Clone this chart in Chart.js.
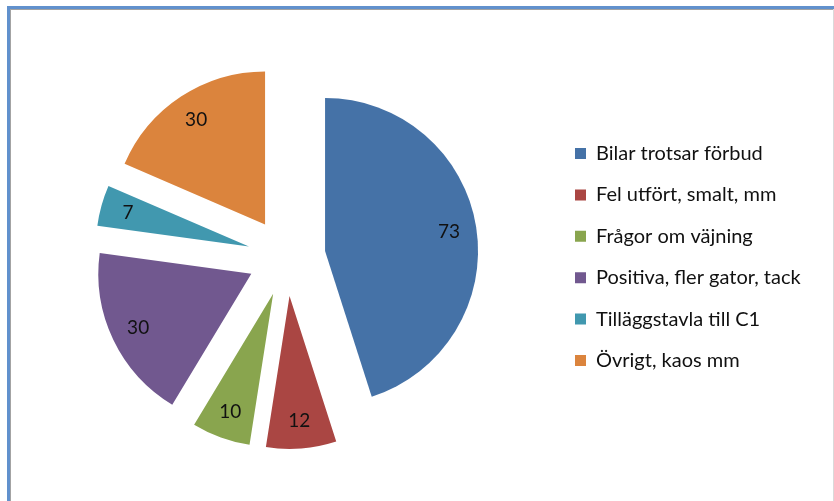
<!DOCTYPE html>
<html>
<head>
<meta charset="utf-8">
<script src="https://cdn.jsdelivr.net/npm/chart.js@4/dist/chart.umd.min.js"></script>
<style>
    html, body { margin: 0; padding: 0; background: #fff; overflow: hidden; }
    #ram { position: absolute; left: 7px; top: 6px; width: 900px; height: 600px;
           border-top: 3px solid #6191cd; border-left: 3px solid #6191cd;
           box-shadow: inset 1px 1px 0 #a3a3a3; }
    #kant { position: absolute; left: 833px; top: 9px; width: 1px; height: 492px; background: #dadada; }
    canvas { position: absolute; left: 0; top: 0; }
</style>
</head>
<body>
<div id="ram"></div>
<div id="kant"></div>
<canvas id="diagram" width="834" height="501"></canvas>
<script>
const kategorier = [
    'Bilar trotsar förbud',
    'Fel utfört, smalt, mm',
    'Frågor om väjning',
    'Positiva, fler gator, tack',
    'Tilläggstavla till C1',
    'Övrigt, kaos mm'
];
const antal = [73, 12, 10, 30, 7, 30];
const farger = ['#4572a7', '#aa4643', '#89a54e', '#71588f', '#4198af', '#db843d'];

const typsnitt = { family: 'Lato', size: 20 };
const explosion = 39;   // hur långt bitarna flyttas ut
const radie = 153;

// legendens bredd beror på längsta texten
const matt = document.createElement('canvas').getContext('2d');
matt.font = typsnitt.size + 'px ' + typsnitt.family;
const langsta = Math.max(...kategorier.map(k => matt.measureText(k).width));

// flyttar ut varje tårtbit från mitten
const sprangPlugin = {
    id: 'sprang',
    afterDatasetUpdate(chart, args) {
        args.meta.data.forEach(bit => {
            const mitt = (bit.startAngle + bit.endAngle) / 2;
            bit.x += Math.cos(mitt) * explosion;
            bit.y += Math.sin(mitt) * explosion;
        });
    }
};

// värdena skrivs inne i bitarna
const etikettPlugin = {
    id: 'etiketter',
    afterDatasetsDraw(chart) {
        const ctx = chart.ctx;
        const meta = chart.getDatasetMeta(0);
        ctx.save();
        ctx.font = '19px ' + typsnitt.family;
        ctx.fillStyle = '#111';
        ctx.textAlign = 'center';
        ctx.textBaseline = 'middle';
        meta.data.forEach((bit, i) => {
            const mitt = (bit.startAngle + bit.endAngle) / 2;
            const r = bit.outerRadius * 0.82;
            ctx.fillText(antal[i], bit.x + Math.cos(mitt) * r, bit.y + Math.sin(mitt) * r);
        });
        ctx.restore();
    }
};

new Chart(document.getElementById('diagram'), {
    type: 'pie',
    data: {
        labels: kategorier,
        datasets: [{
            data: antal,
            backgroundColor: farger,
            borderWidth: 0,
            radius: radie
        }]
    },
    options: {
        responsive: false,
        animation: false,
        events: [],
        layout: {
            padding: { left: 19.4, right: 228 - langsta, top: 14, bottom: 1 }
        },
        plugins: {
            legend: {
                position: 'right',
                labels: {
                    boxWidth: 11,
                    boxHeight: 11,
                    padding: 21.4,
                    color: '#111',
                    font: typsnitt
                }
            },
            tooltip: { enabled: false }
        }
    },
    plugins: [sprangPlugin, etikettPlugin]
});
</script>
</body>
</html>
